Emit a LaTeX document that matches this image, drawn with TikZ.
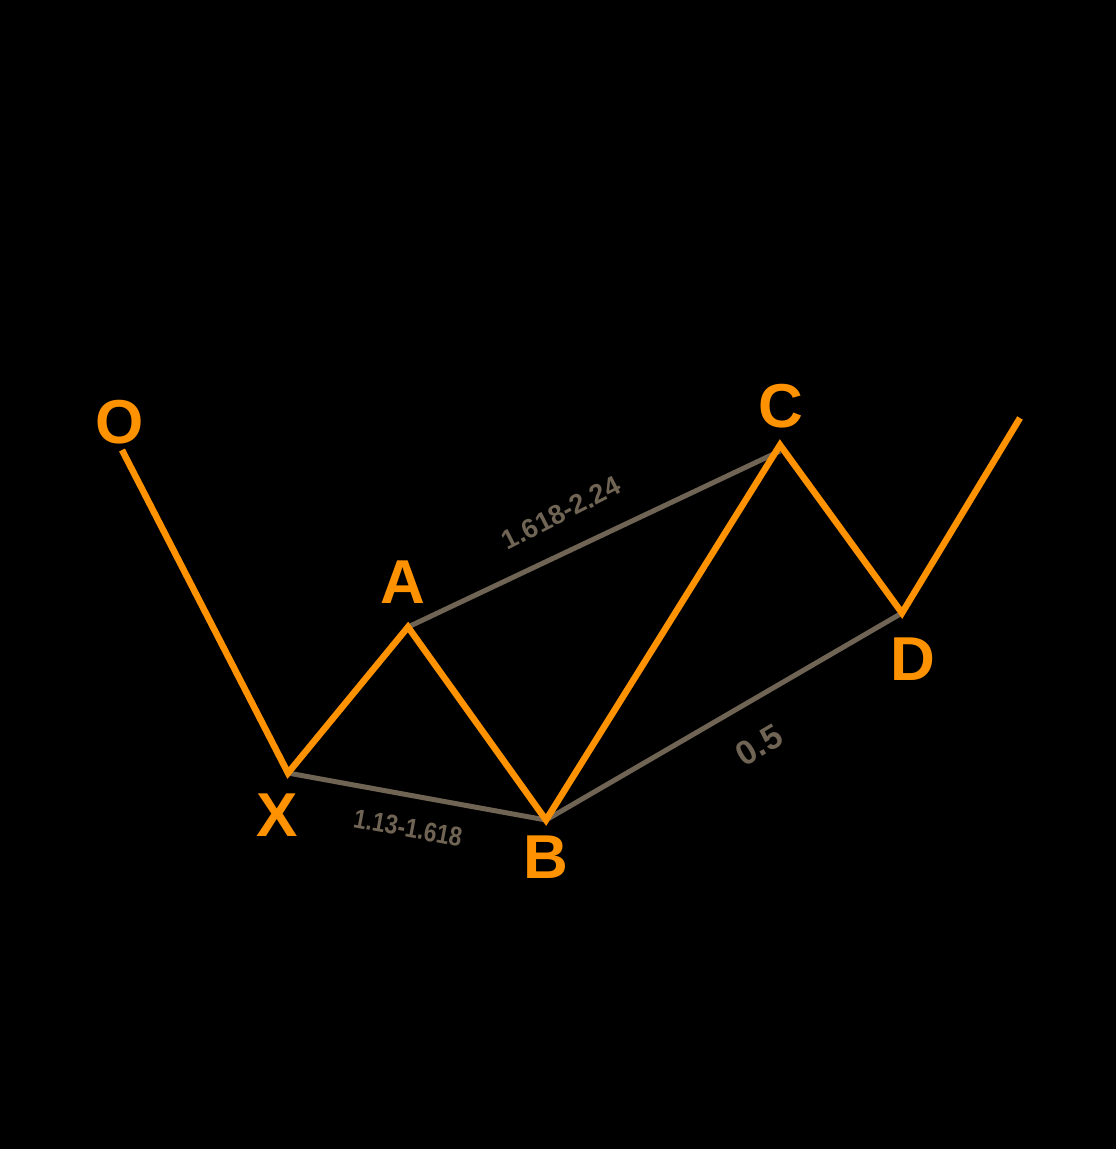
\documentclass[tikz,border=0pt]{standalone}
\usepackage{fontspec}
\setmainfont{Liberation Sans}
\definecolor{orng}{RGB}{255,146,0}
\definecolor{gline}{RGB}{112,100,84}
\begin{document}
\begin{tikzpicture}[x=1pt,y=-1pt,
  leg/.style={orng,line width=6.5pt,line join=miter},
  ratio/.style={gline,line width=5pt},
  ptlabel/.style={orng,font=\bfseries\fontsize{62}{62}\selectfont,inner sep=0pt},
  rlabel/.style={gline,font=\bfseries\fontsize{27}{27}\selectfont,inner sep=0pt}]
\fill[black] (0,0) rectangle (1116,1149);
\useasboundingbox (0,0) rectangle (1116,1149);
\coordinate (o) at (122,450);
\coordinate (x) at (288,773);
\coordinate (a) at (408,627);
\coordinate (b) at (546,820);
\coordinate (c) at (780,445);
\coordinate (c2) at (780,451);
\coordinate (d) at (902,613);
\coordinate (e) at (1020,418);
\draw[ratio] (x) -- (b);
\draw[ratio] (a) -- (c2);
\draw[ratio] (b) -- (d);
\draw[leg] (o) -- (x) -- (a) -- (b) -- (c) -- (d) -- (e);
\node[ptlabel] (lo) at (120,422) {O};
\node[ptlabel] (lx) at (277,815) {X};
\node[ptlabel] (la) at (403,582) {A};
\node[ptlabel] (lb) at (546,857) {B};
\node[ptlabel] (lc) at (781,406) {C};
\node[ptlabel] (ld) at (913,659) {D};
\node[rlabel,rotate=27] (r1) at (561,513) {1.618-2.24};
\node[rlabel,rotate=-10.4,xscale=0.85] (r2) at (408,828) {1.13-1.618};
\node[rlabel,rotate=30.6,font=\bfseries\fontsize{34}{34}\selectfont] (r3) at (759,745) {0.5};
\end{tikzpicture}
\end{document}
